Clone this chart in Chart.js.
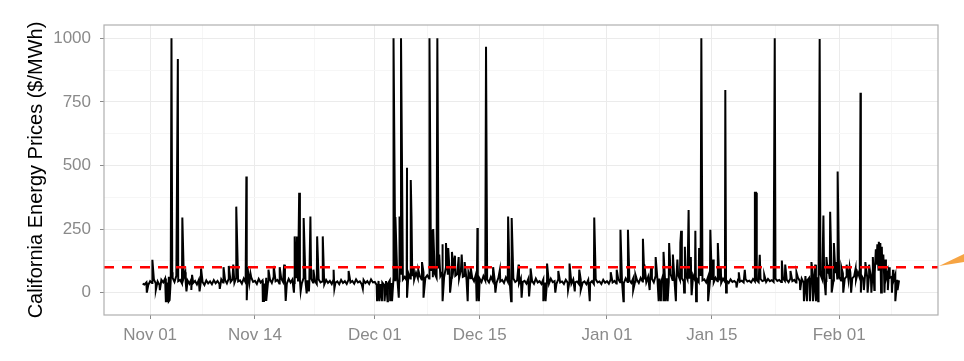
<!DOCTYPE html>
<html>
<head>
<meta charset="utf-8">
<script src="https://cdn.jsdelivr.net/npm/chart.js@4/dist/chart.umd.min.js"></script>
<style>
  html, body { margin: 0; padding: 0; background: #fff; }
  #wrap { position: relative; width: 964px; height: 361px; }
</style>
</head>
<body>
<div id="wrap"><canvas id="chart" width="964" height="361"></canvas></div>
<script>
// x = days since Nov 01; the base series is read every 6 hours
const stepDays = 1 / 4;
const blockStart = [-1, 30, 61, 92];

// Oct 31 .. Nov 30 (4 values per day)
const priceNov = [
  35, 32, 40, 30,  45, 38, 52, 36,  44, 30, 50, 40,  55, 40, 62, 48,  58, 42, 66, 45,
  50, 36, 60, 42,  48, 35, 52, 38,  46, 32, 50, 38,  42, 30, 48, 36,  44, 33, 49, 37,
  46, 34, 52, 40,  50, 36, 55, 42,  52, 38, 58, 44,  48, 35, 55, 40,  50, 38, 60, 42,
  46, 34, 54, 40,  48, 36, 58, 44,  52, 38, 62, 45,  50, 36, 56, 42,  48, 35, 54, 40,
  52, 38, 60, 44,  50, 36, 58, 42,  48, 35, 55, 40,  46, 34, 52, 40,  44, 32, 50, 38,
  46, 34, 52, 39,  44, 33, 50, 38,  45, 34, 51, 40,  46, 35, 52, 40,  44, 33, 50, 38,
  45, 34, 52, 40
];
// Dec 01 .. Dec 31
const priceDec = [
  42, 30, 46, 34,  40, 30, 45, 35,  48, 38, 58, 45,  60, 45, 70, 52,  62, 48, 75, 55,
  65, 50, 78, 56,  66, 52, 80, 58,  68, 55, 85, 60,  75, 58, 95, 65,  80, 60, 100, 70,
  78, 58, 95, 66,  72, 55, 90, 62,  66, 50, 80, 56,  60, 45, 72, 50,  55, 42, 65, 48,
  52, 40, 62, 46,  50, 38, 58, 44,  50, 38, 60, 44,  48, 36, 56, 42,  48, 36, 56, 42,
  46, 35, 54, 41,  46, 35, 55, 40,  45, 34, 52, 40,  46, 35, 55, 41,  45, 34, 52, 40,
  44, 34, 50, 39,  45, 35, 52, 40,  44, 34, 50, 39,  44, 33, 50, 38,  45, 34, 52, 40,
  44, 34, 50, 39
];
// Jan 01 .. Jan 31
const priceJan = [
  45, 35, 52, 40,  46, 36, 54, 41,  48, 37, 56, 42,  48, 38, 56, 43,  50, 38, 58, 44,
  52, 40, 62, 46,  54, 40, 66, 48,  55, 42, 70, 50,  56, 42, 72, 50,  55, 42, 70, 50,
  56, 44, 72, 52,  55, 42, 68, 50,  54, 42, 66, 48,  52, 40, 62, 46,  50, 40, 58, 45,
  48, 38, 55, 43,  46, 38, 52, 42,  46, 39, 52, 43,  47, 40, 53, 44,  47, 40, 53, 44,
  48, 41, 54, 45,  48, 42, 54, 45,  49, 42, 55, 46,  50, 42, 56, 46,  50, 41, 56, 45,
  50, 40, 58, 46,  55, 40, 65, 48,  58, 42, 70, 50,  60, 45, 72, 52,  62, 46, 75, 54,
  62, 48, 76, 55
];
// Feb 01 .. Feb 09
const priceFeb = [
  62, 48, 76, 55,  64, 50, 78, 56,  64, 50, 80, 58,  66, 52, 85, 60,  70, 55, 95, 75,
  110, 90, 140, 100,  70, 52, 80, 58,  62, 45, 70, 50,  48
];

// single-hour price spikes
const spikeDays = [
  2.85, 3.7, 4.3, 11.5, 12.85, 19.3, 19.6, 19.9, 20.5, 21.4, 22.3, 23.05,
  32.5, 32.75, 33.3, 33.5, 34.3, 34.8, 34.9, 37.3, 37.7, 37.8, 38.35,
  43.7, 44.85, 47.8, 48.3, 59.3, 62.8, 63.8, 65.8, 69.3, 70.8, 70.9, 71.9,
  72.8, 73.3, 73.6, 74.8, 75.8, 76.8, 80.75, 80.9, 81.4, 83.4, 84.35,
  89.4, 89.9, 90.8, 91.3, 91.8, 94.85
];
const spikeValues = [
  1000, 918, 295, 338, 456, 221, 221, 393, 293, 299, 221, 221,
  1000, 297, 299, 1000, 491, 443, 300, 1000, 247, 250, 1000,
  254, 966, 299, 293, 295, 247, 247, 212, 195, 195, 243, 325,
  243, 175, 1000, 247, 195, 796, 393, 393, 149, 1000, 126,
  997, 303, 318, 195, 476, 786
];

// smaller upward blips
const bumpDays = [
  0.3, 2.95, 4.7, 5.6, 6.8, 9.8, 10.5, 11.1, 13.0, 13.4, 15.8, 16.5, 17.3, 17.9, 21.8, 24.5, 26.5,
  35.2, 35.8, 36.3, 38.6, 39.0, 39.5, 39.8, 40.3, 40.7, 41.2, 41.6, 42.0, 42.8, 45.8, 46.7, 49.2,
  50.8, 53.0, 54.5, 56.0, 57.3,
  61.5, 62.3, 64.8, 66.0, 66.9, 67.5, 68.6, 69.8, 70.4, 71.4, 72.2, 75.2, 76.2, 78.6, 79.4, 82.0,
  84.8, 85.5, 86.3, 88.3, 88.8, 90.3, 90.5, 91.6,
  92.3, 93.0, 93.4, 94.2, 95.5, 96.0, 96.5, 96.9, 97.1, 97.3, 97.5, 97.7, 97.9, 98.2, 98.7, 99.2
];
const bumpValues = [
  129, 80, 80, 70, 95, 100, 105, 110, 100, 75, 90, 105, 100, 110, 90, 90, 85,
  100, 90, 120, 150, 190, 195, 175, 160, 145, 140, 150, 120, 100, 100, 90, 110,
  95, 114, 85, 114, 90,
  80, 90, 70, 110, 100, 140, 160, 150, 130, 180, 140, 130, 100, 80, 90, 70,
  110, 85, 80, 120, 110, 140, 110, 120,
  100, 110, 100, 95, 120, 110, 140, 170, 190, 200, 195, 180, 150, 130, 100, 90
];

// downward dips (negative prices)
const dipDays = [
  -0.44, 0.76, 1.3, 2.1, 2.2, 2.35, 2.5, 2.6, 4.85, 5.5, 6.6, 9.3, 12.9, 15.05, 15.2, 15.35,
  15.5, 18.1, 19.2, 20.1, 20.9, 21.2, 24.6, 28.4,
  30.3, 30.6, 30.95, 31.3, 31.7, 32.05, 32.3, 33.2, 34.3, 36.5, 39.1, 40.05, 42.4, 43.6, 43.9,
  46.1, 48.2, 49.6, 50.6, 52.5, 52.8, 54.1, 55.8, 56.7, 57.5, 58.7,
  63.2, 64.5, 66.7, 67.9, 68.2, 68.5, 68.8, 69.1, 70.2, 71.3, 72.3, 72.9, 74.5, 76.9, 78.3,
  86.8, 87.3, 87.7, 88.1, 88.5, 88.9, 89.2, 90.2, 91.0,
  92.55, 93.6, 94.9, 95.3, 95.8, 96.3, 96.7, 97.6, 98.05, 98.5, 99.05, 99.5, 99.8
];
const dipValues = [
  0, 10, 10, -34, -34, -34, -34, -30, 5, 10, 5, 15, -30, -33, -33, -33,
  -33, -33, 0, 5, -3, 5, 15, 15,
  -34, -34, -34, -34, -34, -34, -34, -20, -20, -20, -34, 0, -34, -34, -34,
  0, -34, -20, -15, -34, -34, 0, 10, 5, 10, -34,
  -34, 10, 10, -34, -34, -34, -34, -34, -34, 0, -10, -34, -34, 0, 20,
  10, -34, -34, -34, -34, -34, -34, -10, 0,
  0, 0, 0, 10, 0, 0, 10, 0, 0, 10, 0, -34, 10
];

const threshold = 100;

const xTickDays = [0, 14, 30, 44, 61, 75, 92];
const xTickLabels = ['Nov 01', 'Nov 14', 'Dec 01', 'Dec 15', 'Jan 01', 'Jan 15', 'Feb 01'];
const yTickValues = [0, 250, 500, 750, 1000];

// build the point list
const points = [];
[priceNov, priceDec, priceJan, priceFeb].forEach((arr, b) => {
  arr.forEach((v, i) => points.push({ x: blockStart[b] + i * stepDays, y: v }));
});
[[spikeDays, spikeValues], [bumpDays, bumpValues], [dipDays, dipValues]].forEach(([ds, vs]) => {
  ds.forEach((d, i) => points.push({ x: d, y: vs[i] }));
});
points.sort((a, b) => a.x - b.x);

function withMinors(majors, extraEnd) {
  const out = [];
  majors.forEach((v, i) => {
    out.push({ value: v, minor: false });
    if (i < majors.length - 1) out.push({ value: (v + majors[i + 1]) / 2, minor: true });
  });
  if (extraEnd != null) out.push({ value: extraEnd, minor: true });
  return out;
}

const gridColor = ctx => (ctx.tick && ctx.tick.minor) ? '#f6f6f6' : '#ebebeb';
const tickColor = ctx => (ctx.tick && ctx.tick.minor) ? 'rgba(0,0,0,0)' : '#8a8a8a';
const axisFont = { family: 'Liberation Sans, Arial, Helvetica, sans-serif', size: 17 };

const panelPlugin = {
  id: 'panel',
  afterDatasetsDraw(chart) {
    const { ctx, chartArea: a, scales } = chart;
    const y = scales.y.getPixelForValue(threshold);
    ctx.save();
    ctx.strokeStyle = '#ff0000';
    ctx.lineWidth = 2.5;
    ctx.setLineDash([10, 8]);
    ctx.beginPath();
    ctx.moveTo(a.left, y);
    ctx.lineTo(a.right, y);
    ctx.stroke();
    ctx.restore();

    ctx.save();
    ctx.strokeStyle = '#b0b0b0';
    ctx.lineWidth = 1.2;
    ctx.strokeRect(a.left, a.top, a.right - a.left, a.bottom - a.top);
    // tip of an orange arrow head sitting off to the right
    ctx.fillStyle = '#f6a443';
    ctx.beginPath();
    ctx.moveTo(a.right + 1, 266);
    ctx.lineTo(964, 254);
    ctx.lineTo(964, 262);
    ctx.closePath();
    ctx.fill();
    ctx.restore();
  }
};

new Chart(document.getElementById('chart'), {
  type: 'line',
  data: {
    datasets: [{
      data: points,
      borderColor: '#000',
      borderWidth: 2,
      pointRadius: 0,
      tension: 0,
      fill: false
    }]
  },
  plugins: [panelPlugin],
  options: {
    responsive: false,
    animation: false,
    layout: { padding: { left: 0, right: 26, top: 25, bottom: 0 } },
    plugins: { legend: { display: false }, tooltip: { enabled: false } },
    scales: {
      x: {
        type: 'linear',
        min: -6.16,
        max: 105.2,
        afterBuildTicks: s => { s.ticks = withMinors(xTickDays, xTickDays[xTickDays.length - 1] + 7); },
        afterFit: s => { s.height = 46; },
        border: { display: false },
        grid: { color: gridColor, tickColor: tickColor, tickLength: 4, lineWidth: 1 },
        ticks: {
          autoSkip: false,
          maxRotation: 0,
          padding: 6,
          color: '#8a8a8a',
          font: axisFont,
          callback: v => {
            const i = xTickDays.indexOf(v);
            return i >= 0 ? xTickLabels[i] : '';
          }
        }
      },
      y: {
        type: 'linear',
        min: -88,
        max: 1052,
        afterBuildTicks: s => { s.ticks = withMinors(yTickValues, null); },
        afterFit: s => { s.width = 104; },
        border: { display: false },
        grid: { color: gridColor, tickColor: tickColor, tickLength: 4, lineWidth: 1 },
        ticks: {
          autoSkip: false,
          padding: 9,
          color: '#8a8a8a',
          font: axisFont,
          callback: v => yTickValues.includes(v) ? String(v) : ''
        },
        title: {
          display: true,
          text: 'California Energy Prices ($/MWh)',
          color: '#000',
          font: { family: 'Liberation Sans, Arial, Helvetica, sans-serif', size: 20 },
          padding: { top: 24, bottom: 0 }
        }
      }
    }
  }
});
</script>
</body>
</html>
